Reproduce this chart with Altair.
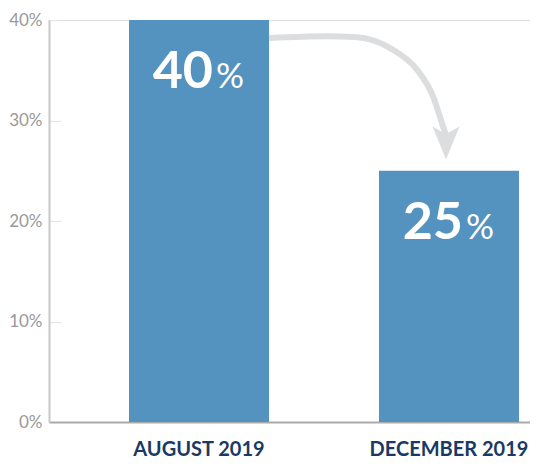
import altair as alt
import pandas as pd

# ---- data ----
categories = ["AUGUST 2019", "DECEMBER 2019"]
values = [40, 25]
tick_values = [0, 10, 20, 30, 40]

# curved arrow between the bars, in data units:
# pos 0 = centre of first bar, pos 1 = centre of second bar; share in percent
arrow_pos = [0.28, 0.512, 0.624, 0.776, 0.872, 0.936, 0.976, 0.988]
arrow_share = [38.22, 38.39, 38.32, 37.04, 35.06, 32.40, 29.43, 28.54]
head_pos = [0.988]
head_share = [27.75]

bars_df = pd.DataFrame({"period": categories, "share": values})
arrow_df = pd.DataFrame({"pos": arrow_pos, "share": arrow_share,
                         "order": list(range(len(arrow_pos)))})
head_df = pd.DataFrame({"pos": head_pos, "share": head_share})

BLUE = "#5493bf"
ARROW = "#dcdddf"
FONT = "Lato"

y_scale = alt.Scale(domain=[0, 40], nice=False, zero=True)
x_band = alt.Scale(paddingInner=0.44, paddingOuter=0.182, align=0.879)
x_lin = alt.Scale(domain=[-0.6, 1.324], nice=False, zero=False)

y_axis = alt.Axis(
    values=tick_values,
    labelExpr="datum.label + '%'",
    title=None,
    ticks=False,
    tickSize=0,
    labelPadding=7,
    grid=True,
    gridDash=[12, 2000],
    gridColor="#e3e3e3",
    gridWidth=1,
    domainColor="#c8c8c8",
    domainWidth=2,
    labelFont=FONT,
    labelFontSize=17,
    labelColor="#999999",
)

x_axis = alt.Axis(
    title=None,
    labelAngle=0,
    ticks=False,
    tickSize=0,
    labelPadding=17,
    domainColor="#aaaaaa",
    domainWidth=2,
    labelFont=FONT,
    labelFontSize=20,
    labelFontWeight="bold",
    labelColor="#1b3a63",
)

base = alt.Chart(bars_df).encode(
    x=alt.X("period:N", sort=categories, scale=x_band, axis=x_axis),
    y=alt.Y("share:Q", scale=y_scale, axis=y_axis),
)

bars = base.mark_bar(color=BLUE)

nums = base.mark_text(
    align="right", baseline="alphabetic", dx=14, dy=68,
    font=FONT, fontSize=52, fontWeight="bold", color="white",
).encode(text=alt.Text("share:Q"))

pct = base.mark_text(
    align="left", baseline="alphabetic", dx=17, dy=68,
    font=FONT, fontSize=35, fontWeight="normal", color="white",
).encode(text=alt.value("%"))

arrow = alt.Chart(arrow_df).mark_line(
    color=ARROW, strokeWidth=6, interpolate="monotone", strokeCap="butt",
).encode(
    x=alt.X("pos:Q", scale=x_lin, axis=None),
    y=alt.Y("share:Q", scale=y_scale, title=None),
    order="order:O",
)

head = alt.Chart(head_df).mark_point(
    shape="M-0.82,-1L0,-0.55L0.82,-1L0,1Z",
    size=1089, filled=True, color=ARROW, opacity=1,
).encode(
    x=alt.X("pos:Q", scale=x_lin, axis=None),
    y=alt.Y("share:Q", scale=y_scale, title=None),
)

chart = alt.layer(
    alt.layer(bars, nums, pct),
    alt.layer(arrow, head),
).resolve_scale(x="independent").properties(
    width=481,
    height=402,
    autosize="none",
    padding={"left": 41, "top": 12, "right": 0, "bottom": 36},
).configure_view(stroke=None).configure(background="white")

chart.save("out.html", embed_options={"renderer": "svg", "actions": False})
